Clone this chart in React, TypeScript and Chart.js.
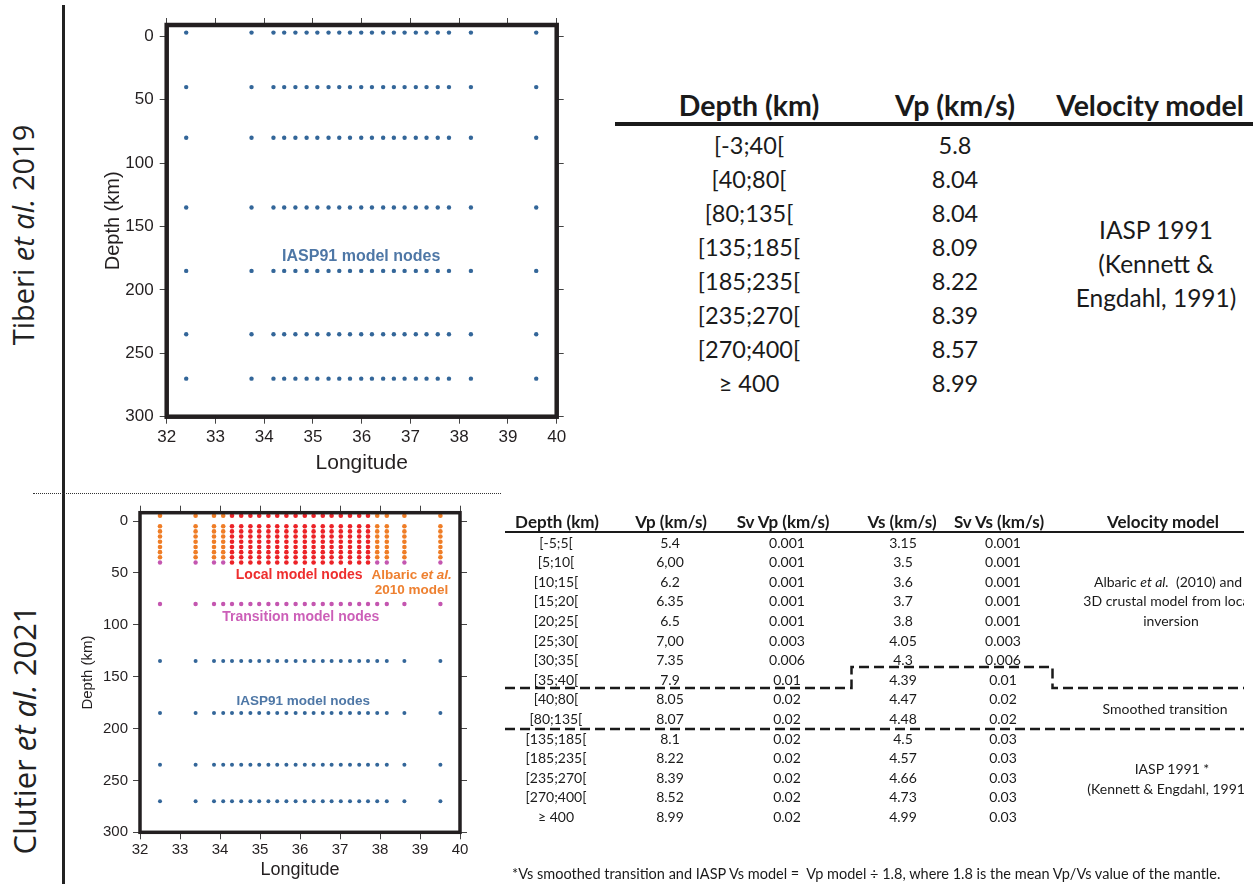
import React, { useEffect, useRef } from "react";
import { Chart, registerables } from "chart.js";

Chart.register(...registerables);

// ---------------- Data: Tiberi et al. 2019 (IASP91 nodes) ----------------
const tiberiLongitudes = [32.4, 33.74, 34.19, 34.41, 34.64, 34.87, 35.09, 35.32, 35.54, 35.76, 35.99, 36.21, 36.44, 36.66, 36.88, 37.11, 37.33, 37.56, 37.79, 38.24, 39.58];
const tiberiDepths = [-3, 40, 80, 135, 185, 235, 270];

// ---------------- Data: Clutier et al. 2021 ----------------
const clutierLongitudes = [32.5, 33.39, 33.85, 34.08, 34.3, 34.53, 34.76, 34.98, 35.21, 35.43, 35.66, 35.89, 36.12, 36.34, 36.57, 36.79, 37.02, 37.25, 37.48, 37.7, 37.93, 38.17, 38.61, 39.51];
const clutierEdgeLongitudes = [32.5, 33.39, 33.85, 34.08, 37.93, 38.17, 38.61, 39.51];
const clutierLocalLongitudes = [34.3, 34.53, 34.76, 34.98, 35.21, 35.43, 35.66, 35.89, 36.12, 36.34, 36.57, 36.79, 37.02, 37.25, 37.48, 37.7];
const localDepths = [-5, 5, 10, 15, 20, 25, 30, 35, 40];
const albaricDepths = [-5, 5, 10, 15, 20, 25, 30, 35];
const transitionEdgeDepths = [40];
const transitionDepths = [80];
const iaspDepths = [135, 185, 235, 270];

// ---------------- Tables ----------------
const tiberiHeaders = ["Depth (km)", "Vp (km/s)", "Velocity model"];
const tiberiRanges = ["[-3;40[", "[40;80[", "[80;135[", "[135;185[", "[185;235[", "[235;270[", "[270;400[", "≥ 400"];
const tiberiVp = ["5.8", "8.04", "8.04", "8.09", "8.22", "8.39", "8.57", "8.99"];
const tiberiModel = ["IASP 1991", "(Kennett &", "Engdahl, 1991)"];

const clutierHeaders = ["Depth (km)", "Vp (km/s)", "Sv Vp (km/s)", "Vs (km/s)", "Sv Vs (km/s)", "Velocity model"];
const clutierRanges = ["[-5;5[", "[5;10[", "[10;15[", "[15;20[", "[20;25[", "[25;30[", "[30;35[", "[35;40[", "[40;80[", "[80;135[", "[135;185[", "[185;235[", "[235;270[", "[270;400[", "≥ 400"];
const clutierVp = ["5.4", "6,00", "6.2", "6.35", "6.5", "7,00", "7.35", "7.9", "8.05", "8.07", "8.1", "8.22", "8.39", "8.52", "8.99"];
const clutierSvVp = ["0.001", "0.001", "0.001", "0.001", "0.001", "0.003", "0.006", "0.01", "0.02", "0.02", "0.02", "0.02", "0.02", "0.02", "0.02"];
const clutierVs = ["3.15", "3.5", "3.6", "3.7", "3.8", "4.05", "4.3", "4.39", "4.47", "4.48", "4.5", "4.57", "4.66", "4.73", "4.99"];
const clutierSvVs = ["0.001", "0.001", "0.001", "0.001", "0.001", "0.003", "0.006", "0.01", "0.02", "0.02", "0.03", "0.03", "0.03", "0.03", "0.03"];
const footnote = "*Vs smoothed transition and IASP Vs model =  Vp model ÷ 1.8, where 1.8 is the mean Vp/Vs value of the mantle.";

const SANS = '"Liberation Sans", Arial, Helvetica, sans-serif';
const CAL = 'Lato, "Open Sans", sans-serif';
const INK = "#231f20";

const BLUE = "#336699";
const RED = "#ec2227";
const ORANGE = "#ef7d26";
const MAGENTA = "#c456b0";

const grid = (lons: number[], depths: number[]) =>
  depths.flatMap((d) => lons.map((l) => ({ x: l, y: d })));

type Label = { lon: number; depth: number; color: string; size: number; parts: { text: string; italic?: boolean }[] };

type Spec = {
  left: number; top: number; width: number; height: number;
  datasets: { name: string; points: { x: number; y: number }[]; color: string; r: number }[];
  labels: Label[];
  yMin: number;
  leftW: number; rightW: number; topH: number; bottomH: number;
  tickSize: number; tickLen: number; xPad: number; yPad: number;
  xTitleSize: number; xTitlePad: number; yTitleSize: number; yTitlePad: number;
  frame: number;
};

function NodeChart({ spec }: { spec: Spec }) {
  const ref = useRef<HTMLCanvasElement | null>(null);
  useEffect(() => {
    if (!ref.current) return;
    const p = spec;
    const overlay = {
      id: "frameAndLabels",
      afterDatasetsDraw(chart: any) {
        const { ctx, chartArea: a } = chart;
        ctx.save();
        ctx.strokeStyle = INK;
        ctx.lineWidth = p.frame;
        ctx.lineJoin = "miter";
        ctx.strokeRect(a.left, a.top, a.right - a.left, a.bottom - a.top);
        const xs = chart.scales.x;
        const ys = chart.scales.y;
        for (const lab of p.labels) {
          const px = xs.getPixelForValue(lab.lon);
          const py = ys.getPixelForValue(lab.depth);
          const fonts = lab.parts.map((q) => `${q.italic ? "italic " : ""}bold ${lab.size}px ${SANS}`);
          const widths = lab.parts.map((q, i) => { ctx.font = fonts[i]; return ctx.measureText(q.text).width; });
          const total = widths.reduce((s, w) => s + w, 0);
          let cx = px - total / 2;
          ctx.fillStyle = lab.color;
          ctx.textBaseline = "middle";
          ctx.textAlign = "left";
          lab.parts.forEach((q, i) => { ctx.font = fonts[i]; ctx.fillText(q.text, cx, py); cx += widths[i]; });
        }
        ctx.restore();
      },
    };
    const gridCfg = { drawOnChartArea: false, drawTicks: true, tickLength: p.tickLen, color: "#444", lineWidth: 1 };
    const tickFont = { family: SANS, size: p.tickSize };
    const chart = new Chart(ref.current, {
      type: "scatter",
      data: {
        datasets: p.datasets.map((d) => ({
          label: d.name,
          data: d.points,
          pointRadius: d.r,
          pointHoverRadius: d.r,
          pointBackgroundColor: d.color,
          pointBorderWidth: 0,
          showLine: false,
        })),
      },
      options: {
        responsive: false,
        animation: false,
        devicePixelRatio: 1,
        events: [],
        layout: { padding: 0 },
        plugins: { legend: { display: false }, tooltip: { enabled: false } },
        scales: {
          x: {
            type: "linear", position: "bottom", min: 32, max: 40,
            grid: gridCfg, border: { display: false },
            ticks: { stepSize: 1, autoSkip: false, maxRotation: 0, font: tickFont, color: INK, padding: p.xPad },
            title: { display: true, text: "Longitude", font: { family: SANS, size: p.xTitleSize }, color: INK, padding: { top: 0, bottom: p.xTitlePad } },
            afterFit: (s: any) => { s.height = p.bottomH; },
          },
          xTop: {
            type: "linear", axis: "x", position: "top", min: 32, max: 40,
            grid: gridCfg, border: { display: false },
            ticks: { display: false, stepSize: 1 },
            afterFit: (s: any) => { s.height = p.topH; },
          },
          y: {
            type: "linear", position: "left", reverse: true, min: p.yMin, max: 300,
            grid: gridCfg, border: { display: false },
            ticks: { stepSize: 50, includeBounds: false, font: tickFont, color: INK, padding: p.yPad },
            title: { display: true, text: "Depth (km)", font: { family: SANS, size: p.yTitleSize }, color: INK, padding: { top: p.yTitlePad, bottom: 0 } },
            afterFit: (s: any) => { s.width = p.leftW; },
          },
          yRight: {
            type: "linear", axis: "y", position: "right", reverse: true, min: p.yMin, max: 300,
            grid: gridCfg, border: { display: false },
            ticks: { display: false, stepSize: 50, includeBounds: false },
            afterFit: (s: any) => { s.width = p.rightW; },
          },
        },
      } as any,
      plugins: [overlay],
    } as any);
    return () => chart.destroy();
  }, [spec]);
  return (
    <canvas
      ref={ref}
      width={spec.width}
      height={spec.height}
      style={{ position: "absolute", left: spec.left, top: spec.top, width: spec.width, height: spec.height }}
    />
  );
}

const tiberiSpec: Spec = {
  left: 70, top: 0, width: 510, height: 480,
  datasets: [{ name: "IASP91 model nodes", points: grid(tiberiLongitudes, tiberiDepths), color: BLUE, r: 2.2 }],
  labels: [{ lon: 35.99, depth: 173.6, color: "#4e77a6", size: 16, parts: [{ text: "IASP91 model nodes" }] }],
  yMin: -9,
  leftW: 96.7, rightW: 23.3, topH: 25, bottomH: 63.3,
  tickSize: 17, tickLen: 7, xPad: 3, yPad: 6,
  xTitleSize: 21, xTitlePad: 4, yTitleSize: 20, yTitlePad: 31,
  frame: 4.5,
};

const clutierSpec: Spec = {
  left: 66, top: 495, width: 410, height: 389,
  datasets: [
    { name: "IASP91 model nodes", points: grid(clutierLongitudes, iaspDepths), color: BLUE, r: 2 },
    { name: "Transition model nodes", points: [...grid(clutierLongitudes, transitionDepths), ...grid(clutierEdgeLongitudes, transitionEdgeDepths)], color: MAGENTA, r: 2.2 },
    { name: "Albaric et al. 2010 model", points: grid(clutierEdgeLongitudes, albaricDepths), color: ORANGE, r: 2.3 },
    { name: "Local model nodes", points: grid(clutierLocalLongitudes, localDepths), color: RED, r: 2.3 },
  ],
  labels: [
    { lon: 35.98, depth: 52, color: "#ee2e2e", size: 14, parts: [{ text: "Local model nodes" }] },
    { lon: 38.79, depth: 52, color: "#ee8030", size: 13.5, parts: [{ text: "Albaric " }, { text: "et al.", italic: true }] },
    { lon: 38.79, depth: 66.5, color: "#ee8030", size: 13.5, parts: [{ text: "2010 model" }] },
    { lon: 36.02, depth: 92.8, color: "#cc5fb8", size: 14, parts: [{ text: "Transition model nodes" }] },
    { lon: 36.08, depth: 174, color: "#4e77a6", size: 13.5, parts: [{ text: "IASP91 model nodes" }] },
  ],
  yMin: -8,
  leftW: 74, rightW: 16, topH: 17.7, bottomH: 51.7,
  tickSize: 15, tickLen: 7, xPad: 2, yPad: 5,
  xTitleSize: 18, xTitlePad: 3.2, yTitleSize: 15, yTitlePad: 13,
  frame: 3.5,
};

function Txt(props: { x: number; y: number; size: number; bold?: boolean; children: React.ReactNode; rotate?: boolean; family?: string; color?: string; weight?: number }) {
  const { x, y, size, bold, children, rotate, family, color, weight } = props;
  return (
    <div
      style={{
        position: "absolute", left: x, top: y,
        transform: `translate(-50%, -50%)${rotate ? " rotate(-90deg)" : ""}`,
        whiteSpace: "pre", lineHeight: 1, fontSize: size,
        fontWeight: weight ?? (bold ? 700 : 400),
        fontFamily: family ?? CAL, color: color ?? "#1a1a1a",
      }}
    >
      {children}
    </div>
  );
}

export default function App() {
  const topRowY = (i: number) => 145.5 + i * 34;
  const botRowY = (i: number) => 542.5 + i * 19.6;
  const topCols = [749, 955, 1150];
  const botHeadCols = [557, 671, 783, 902, 999, 1163];
  const botCols = [556, 670, 787, 903, 1003];
  return (
    <div style={{ position: "absolute", left: 0, top: 0, width: 1253, height: 884, overflow: "hidden", background: "#fff" }}>
      {/* frame lines */}
      <div style={{ position: "absolute", left: 62, top: 5, width: 3, height: 879, background: "#222" }} />
      <div style={{ position: "absolute", left: 33, top: 492.5, width: 468, height: 0, borderTop: "1.5px dotted #333" }} />

      <Txt x={22} y={235} size={29} rotate family={'"Open Sans", sans-serif'} weight={400} color="#222">
        Tiberi <i>et al.</i> 2019
      </Txt>
      <Txt x={24} y={730} size={31} rotate family={'"Open Sans", sans-serif'} weight={400} color="#222">
        Clutier <i>et al.</i> 2021
      </Txt>

      <NodeChart spec={tiberiSpec} />
      <NodeChart spec={clutierSpec} />

      {/* Top table */}
      {tiberiHeaders.map((h, i) => (
        <Txt key={"th" + i} x={topCols[i]} y={105} size={28.5} bold>{h}</Txt>
      ))}
      <div style={{ position: "absolute", left: 615, top: 122, width: 640, height: 3.5, background: "#1a1a1a" }} />
      {tiberiRanges.map((r, i) => (
        <Txt key={"tr" + i} x={topCols[0]} y={topRowY(i)} size={23.5}>{r}</Txt>
      ))}
      {tiberiVp.map((v, i) => (
        <Txt key={"tv" + i} x={955} y={topRowY(i)} size={23.5}>{v}</Txt>
      ))}
      {tiberiModel.map((t, i) => (
        <Txt key={"tm" + i} x={1156} y={230 + i * 34} size={24.5}>{t}</Txt>
      ))}

      {/* Bottom table */}
      <div style={{ position: "absolute", left: 0, top: 0, width: 1244, height: 884, overflow: "hidden" }}>
        {clutierHeaders.map((h, i) => (
          <Txt key={"bh" + i} x={botHeadCols[i]} y={521} size={17} bold>{h}</Txt>
        ))}
        <div style={{ position: "absolute", left: 505, top: 530.5, width: 740, height: 2.5, background: "#1a1a1a" }} />
        {[clutierRanges, clutierVp, clutierSvVp, clutierVs, clutierSvVs].map((col, c) =>
          col.map((v, i) => (
            <Txt key={`b${c}-${i}`} x={botCols[c]} y={botRowY(i)} size={14}>{v}</Txt>
          ))
        )}
        <Txt x={1168} y={botRowY(2)} size={14}>Albaric <i>et al.</i>{"  "}(2010) and</Txt>
        <Txt x={1168} y={botRowY(3)} size={14}>3D crustal model from local</Txt>
        <Txt x={1171} y={botRowY(4)} size={14}>inversion</Txt>
        <Txt x={1165} y={709} size={14}>Smoothed transition</Txt>
        <Txt x={1172} y={769} size={14}>IASP 1991 *</Txt>
        <Txt x={1168} y={789} size={14}>(Kennett &amp; Engdahl, 1991)</Txt>
        <svg width={1253} height={884} style={{ position: "absolute", left: 0, top: 0 }}>
          <polyline
            points="505,688 851.5,688 851.5,667 1052.5,667 1052.5,688 1244,688"
            fill="none" stroke="#1a1a1a" strokeWidth={2.5} strokeDasharray="10 5"
          />
          <line x1={505} y1={729} x2={1244} y2={729} stroke="#1a1a1a" strokeWidth={2.5} strokeDasharray="10 5" />
        </svg>
      </div>
      <div style={{ position: "absolute", left: 512, top: 874, transform: "translateY(-50%)", whiteSpace: "pre", lineHeight: 1, fontSize: 14.5, fontFamily: CAL, color: "#1a1a1a" }}>
        {footnote}
      </div>
    </div>
  );
}
